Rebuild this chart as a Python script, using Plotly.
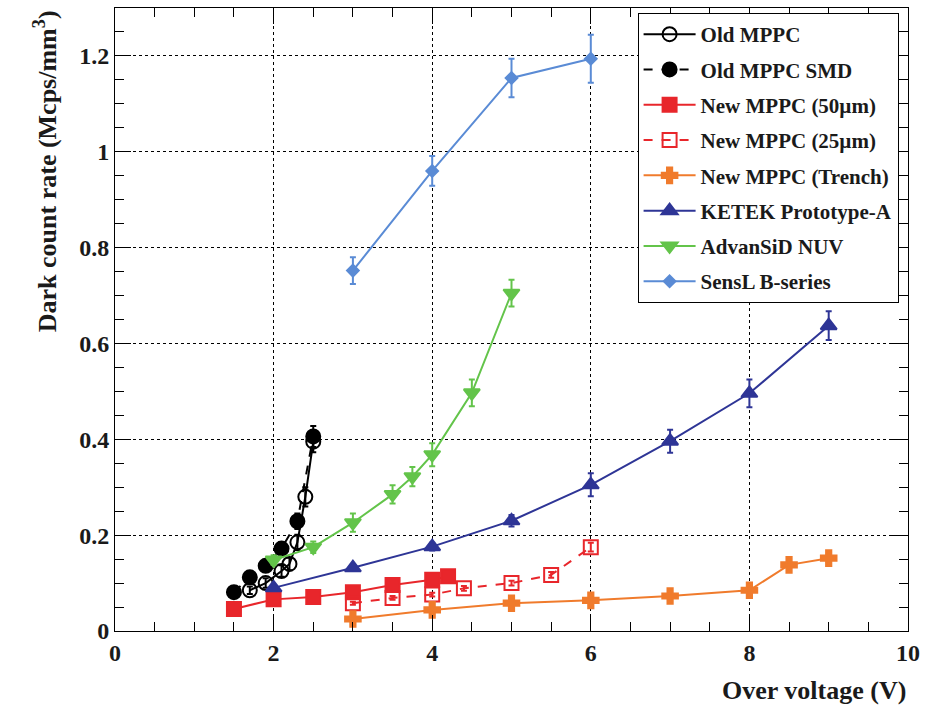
import plotly.graph_objects as go

# Dark count rate vs over voltage for several SiPM types
old_x = [1.7, 1.9, 2.1, 2.2, 2.3, 2.4, 2.5]
old_y = [0.085, 0.100, 0.125, 0.140, 0.185, 0.280, 0.395]
old_e = [0.008, 0.010, 0.012, 0.013, 0.016, 0.020, 0.022]

smd_x = [1.5, 1.7, 1.9, 2.1, 2.3, 2.5]
smd_y = [0.081, 0.112, 0.136, 0.172, 0.229, 0.406]
smd_e = [0.008, 0.010, 0.011, 0.013, 0.016, 0.022]

new50_x = [1.5, 2.0, 2.5, 3.0, 3.5, 4.0, 4.2]
new50_y = [0.046, 0.066, 0.071, 0.081, 0.096, 0.107, 0.114]
new50_e = [0.003, 0.004, 0.004, 0.005, 0.005, 0.006, 0.006]

new25_x = [3.0, 3.5, 4.0, 4.4, 5.0, 5.5, 6.0]
new25_y = [0.058, 0.069, 0.076, 0.089, 0.100, 0.117, 0.175]
new25_e = [0.003, 0.004, 0.004, 0.005, 0.005, 0.006, 0.009]

trench_x = [3.0, 4.0, 5.0, 6.0, 7.0, 8.0, 8.5, 9.0]
trench_y = [0.025, 0.044, 0.058, 0.064, 0.073, 0.085, 0.138, 0.152]
trench_e = [0.002, 0.003, 0.003, 0.003, 0.004, 0.004, 0.006, 0.007]

ketek_x = [2.0, 3.0, 4.0, 5.0, 6.0, 7.0, 8.0, 9.0]
ketek_y = [0.090, 0.132, 0.176, 0.230, 0.305, 0.396, 0.496, 0.637]
ketek_e = [0.005, 0.006, 0.008, 0.012, 0.024, 0.024, 0.029, 0.030]

nuv_x = [2.0, 2.5, 3.0, 3.5, 3.75, 4.0, 4.5, 5.0]
nuv_y = [0.148, 0.175, 0.226, 0.285, 0.322, 0.368, 0.497, 0.705]
nuv_e = [0.010, 0.012, 0.019, 0.019, 0.020, 0.024, 0.028, 0.028]

sensl_x = [3.0, 4.0, 5.0, 6.0]
sensl_y = [0.752, 0.960, 1.154, 1.194]
sensl_e = [0.028, 0.031, 0.040, 0.050]

x_ticks = [0, 2, 4, 6, 8, 10]
y_ticks = [0, 0.2, 0.4, 0.6, 0.8, 1.0, 1.2]
y_tick_text = ["0", "0.2", "0.4", "0.6", "0.8", "1", "1.2"]

SERIF = "Liberation Serif"
INK = "#1a1a1a"

series = [
    ("Old MPPC", old_x, old_y, old_e, "black", "solid", "circle-open", 14),
    ("Old MPPC SMD", smd_x, smd_y, smd_e, "black", "dash", "circle", 14),
    ("New MPPC (50\u00b5m)", new50_x, new50_y, new50_e, "#e8262b", "solid", "square", 14),
    ("New MPPC (25\u00b5m)", new25_x, new25_y, new25_e, "#e8262b", "dash", "square-open", 14),
    ("New MPPC (Trench)", trench_x, trench_y, trench_e, "#f07b2c", "solid", "cross", 13),
    ("KETEK Prototype-A", ketek_x, ketek_y, ketek_e, "#2e3596", "solid", "triangle-up", 14),
    ("AdvanSiD NUV", nuv_x, nuv_y, nuv_e, "#63c44a", "solid", "triangle-down", 14),
    ("SensL B-series", sensl_x, sensl_y, sensl_e, "#5a8bd5", "solid", "diamond", 9),
]

fig = go.Figure()
for i, (name, xs, ys, es, color, dash, sym, size) in enumerate(series):
    fig.add_trace(go.Scatter(
        x=xs, y=ys, name=name, mode="lines+markers", legendgroup=f"g{i}",
        line=dict(color=color, width=2, dash=dash),
        marker=dict(symbol=sym, size=size, color=color,
                    line=dict(color=color, width=2)),
        error_y=dict(type="data", array=es, visible=True, color=color,
                     thickness=2, width=3),
    ))

axis_common = dict(
    showline=True, linecolor="black", linewidth=1, mirror="allticks",
    ticks="inside", ticklen=16, tickcolor="black", tickwidth=1,
    showgrid=True, gridcolor="black", gridwidth=1, griddash="dot",
    zeroline=False,
    tickfont=dict(family=SERIF, size=24, color=INK, weight="bold"),
)

fig.update_xaxes(
    range=[0, 10], tickvals=x_ticks,
    minor=dict(dtick=0.5, ticks="inside", ticklen=9, tickcolor="black", showgrid=False),
    **axis_common,
)
fig.update_yaxes(
    range=[0, 1.3], tickvals=y_ticks, ticktext=y_tick_text,
    minor=dict(dtick=0.05, ticks="inside", ticklen=9, tickcolor="black", showgrid=False),
    **axis_common,
)

fig.update_layout(
    width=927, height=707,
    margin=dict(l=115, r=15, t=7, b=76),
    paper_bgcolor="white", plot_bgcolor="white",
    showlegend=True,
    legend=dict(
        x=0.659, y=0.992, xanchor="left", yanchor="top",
        bgcolor="white", bordercolor="black", borderwidth=1,
        font=dict(family=SERIF, size=21, color=INK, weight="bold"),
        tracegroupgap=5, itemwidth=52,
    ),
    annotations=[
        dict(text="Dark count rate (Mcps/mm<sup>3</sup>)", textangle=-90,
             xref="paper", yref="paper", x=-0.088, y=1.0,
             xanchor="center", yanchor="top", showarrow=False,
             font=dict(family=SERIF, size=26, color=INK, weight="bold")),
        dict(text="Over voltage (V)",
             xref="paper", yref="paper", x=1.0, y=-0.095,
             xanchor="right", yanchor="middle", showarrow=False,
             font=dict(family=SERIF, size=26, color=INK, weight="bold")),
    ],
)

fig.write_html("out.html")
